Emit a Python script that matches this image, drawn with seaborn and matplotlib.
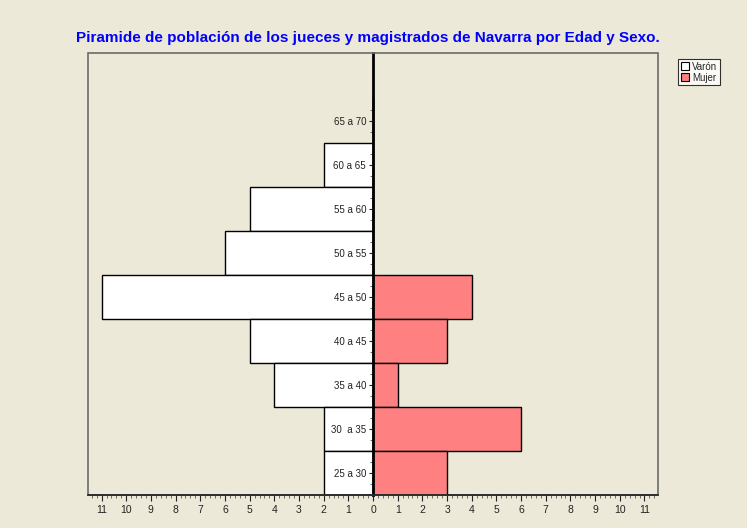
import matplotlib
matplotlib.use('Agg')
import matplotlib.pyplot as plt
from matplotlib.patches import Patch, Rectangle
from matplotlib.ticker import FuncFormatter, MultipleLocator
import seaborn as sns
import pandas as pd

# grupos de edad, de arriba a abajo
edades = ['65 a 70', '60 a 65', '55 a 60', '50 a 55', '45 a 50',
          '40 a 45', '35 a 40', '30  a 35', '25 a 30']
varon = [0, 2, 5, 6, 11, 5, 4, 2, 2]
mujer = [0, 0, 0, 0, 4, 3, 1, 6, 3]

fondo = '#ECE9D8'
sns.set_style('white', {'axes.facecolor': fondo, 'figure.facecolor': fondo})
plt.rcParams['font.family'] = ['Liberation Sans', 'DejaVu Sans']

df = pd.DataFrame({
    'edad': edades * 2,
    'valor': [-v for v in varon] + mujer,
    'sexo': ['Varón'] * len(edades) + ['Mujer'] * len(edades),
})

fig = plt.figure(figsize=(7.47, 5.28), dpi=100)
ax = fig.add_axes([0.1178, 0.0625, 0.7631, 0.8371])

sns.barplot(data=df, x='valor', y='edad', hue='sexo', order=edades,
            palette={'Varón': 'white', 'Mujer': '#FF8080'}, saturation=1,
            dodge=False, width=1, edgecolor='black', linewidth=1,
            legend=False, ax=ax)

ax.set_xlim(-11.55, 11.55)
ax.set_ylim(8.5, -1.55)
ax.set_xlabel('')
ax.set_ylabel('')
ax.set_axisbelow(False)

# eje central con las etiquetas de edad
ax.spines['left'].set_position(('data', 0))
ax.spines['left'].set_color('black')
ax.spines['left'].set_linewidth(2)
ax.spines['left'].set_zorder(5)
for s in ['top', 'right']:
    ax.spines[s].set_visible(False)
ax.add_patch(Rectangle((0, 0), 1, 1, transform=ax.transAxes, fill=False,
                       edgecolor='#6a6a6a', lw=1.2, zorder=6, clip_on=False))
ax.spines['bottom'].set_color('#222222')
ax.spines['bottom'].set_linewidth(1.2)
ax.spines['bottom'].set_zorder(7)

ax.set_yticks(range(len(edades)))
ax.set_yticklabels(edades)
ax.set_yticks([i + d for i in range(len(edades)) for d in (-0.25, 0.25)], minor=True)
ax.tick_params(axis='y', which='major', length=3, width=0.8, labelsize=7,
               colors='#222222', pad=2, left=True)
ax.tick_params(axis='y', which='minor', length=2, width=0.6, colors='#555555', left=True)

ax.set_xticks(range(-11, 12))
ax.xaxis.set_major_formatter(FuncFormatter(lambda v, p: f'{abs(int(round(v)))}'))
ax.xaxis.set_minor_locator(MultipleLocator(0.2))
ax.tick_params(axis='x', which='major', length=4, width=0.8, labelsize=7.5,
               colors='#222222', direction='out', bottom=True, pad=3)
ax.tick_params(axis='x', which='minor', length=2, width=0.6, colors='#555555',
               bottom=True)

fig.text(0.493, 0.928, 'Piramide de población de los jueces y magistrados de Navarra por Edad y Sexo.',
         ha='center', va='center', color='#0000FF', fontsize=11, fontweight='bold')

handles = [Patch(facecolor='white', edgecolor='black', lw=0.8, label='Varón'),
           Patch(facecolor='#FF8080', edgecolor='black', lw=0.8, label='Mujer')]
leg = fig.legend(handles=handles, loc='upper left', bbox_to_anchor=(0.908, 0.888),
                 fontsize=7, frameon=True, fancybox=False, handlelength=0.9,
                 handleheight=0.9, handletextpad=0.3, borderpad=0.25,
                 labelspacing=0.1, borderaxespad=0)
leg.get_frame().set_edgecolor('black')
leg.get_frame().set_linewidth(0.8)
leg.get_frame().set_facecolor('white')

fig.savefig('out.png', dpi=100, facecolor=fondo)
